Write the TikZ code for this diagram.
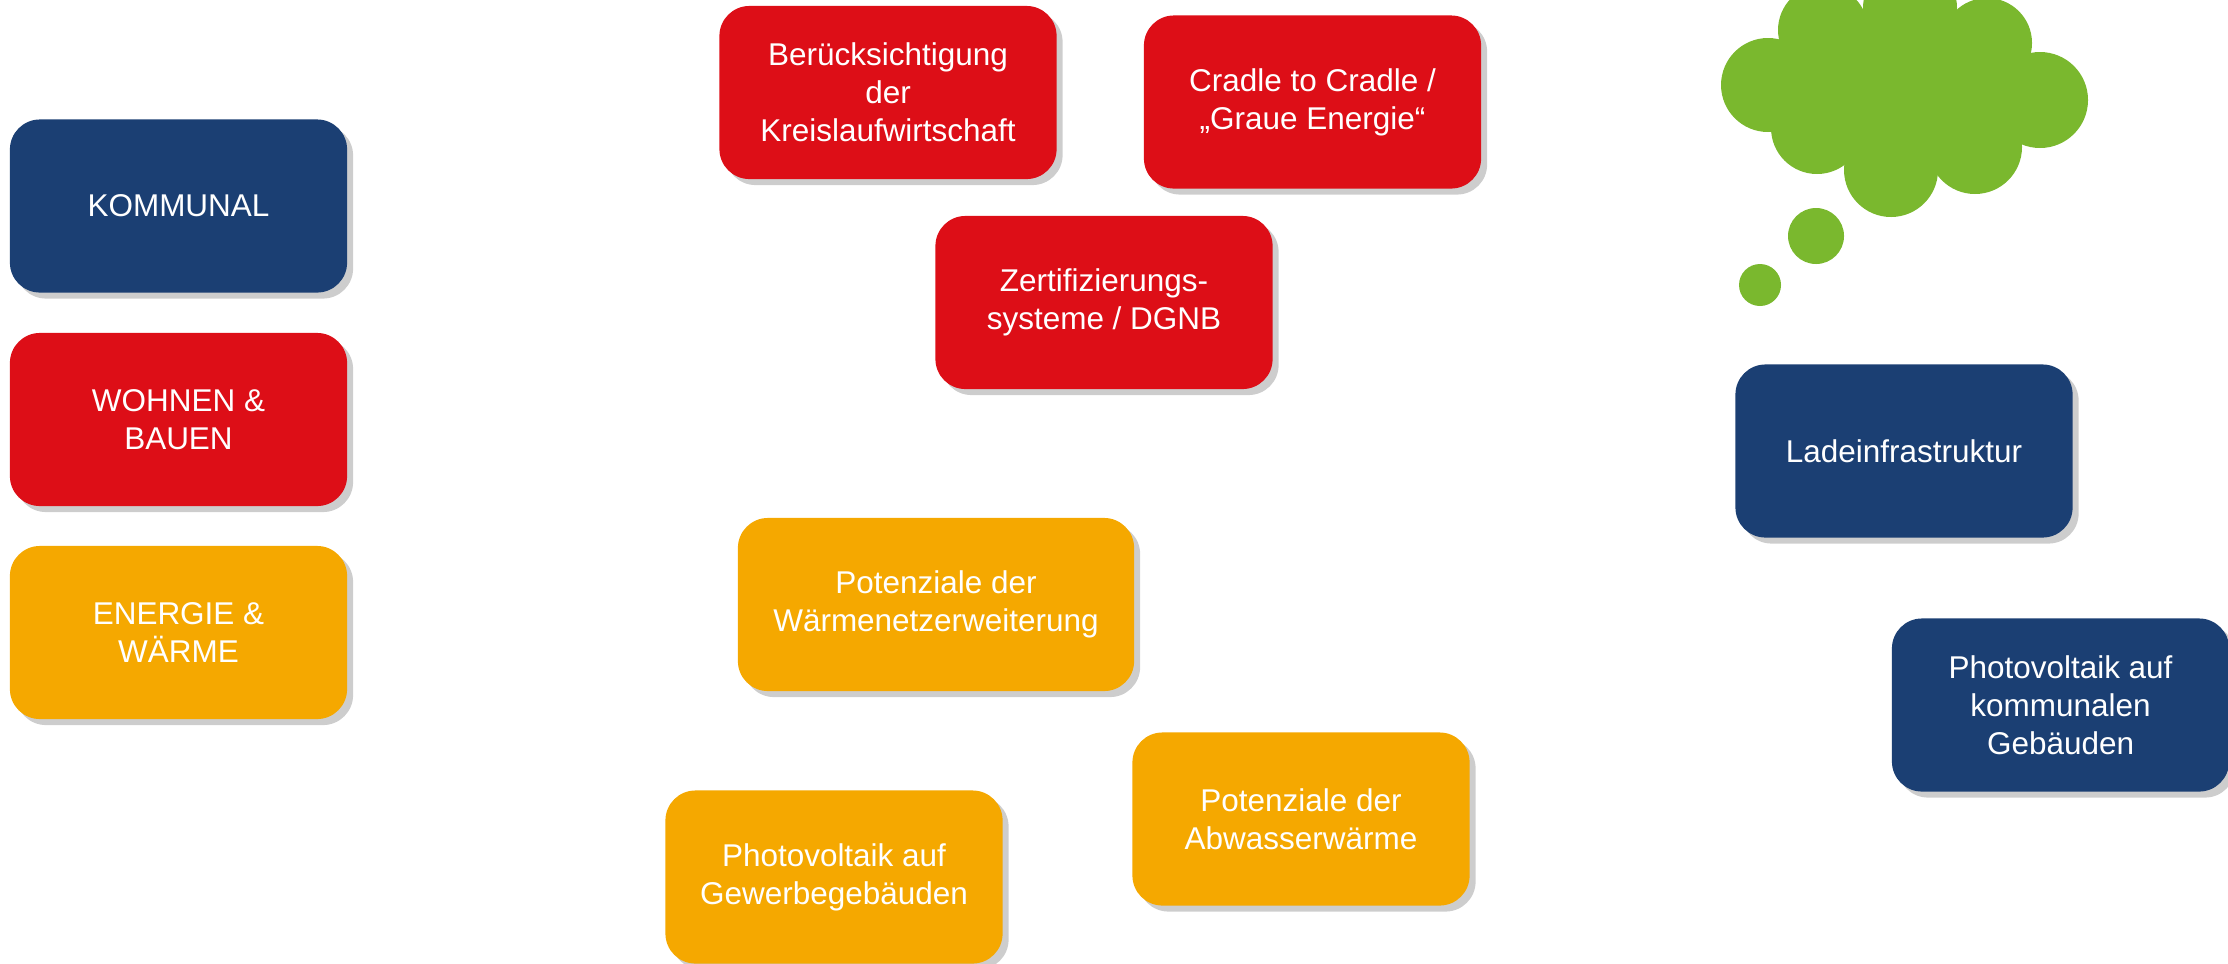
\documentclass[tikz,border=0pt]{standalone}
\usepackage{fontspec}
\setmainfont{Liberation Sans}
\usetikzlibrary{shadows}
\definecolor{kblue}{HTML}{1B3F73}
\definecolor{kred}{HTML}{DD0E17}
\definecolor{korange}{HTML}{F5A800}
\definecolor{kgreen}{HTML}{7AB82E}
\begin{document}
\begin{tikzpicture}[x=0.01cm,y=-0.01cm,
  card/.style={rounded corners=3mm,minimum width=3.37cm,minimum height=1.73cm,
               align=center,text=white,inner sep=2pt,
               font=\fontsize{8.95}{10.8}\selectfont,
               drop shadow={shadow xshift=0.6mm,shadow yshift=-0.6mm,
                            opacity=.28,fill=black!70}},
  blue/.style={card,fill=kblue},
  red/.style={card,fill=kred},
  orange/.style={card,fill=korange}]
\useasboundingbox (0,0) rectangle (2228,963);
\node[blue] (kommunal) at (178.5,206) {KOMMUNAL};
\node[red] (wohnen) at (178.5,419.5) {WOHNEN \&\\BAUEN};
\node[orange] (energie) at (178.5,632.5) {ENERGIE \&\\WÄRME};
\node[red] (kreislauf) at (888,92.5) {Berücksichtigung\\der\\Kreislaufwirtschaft};
\node[red] (cradle) at (1312.5,102) {Cradle to Cradle /\\„Graue Energie“};
\node[red] (dgnb) at (1104,302.5) {Zertifizierungs-\\systeme / DGNB};
\node[blue] (lade) at (1904,451) {Ladeinfrastruktur};
\node[blue] (pvkommunal) at (2060.5,705) {Photovoltaik auf\\kommunalen\\Gebäuden};
\node[orange,minimum width=3.96cm] (waermenetz) at (936,604.5)
  {Potenziale der\\Wärmenetzerweiterung};
\node[orange] (abwasser) at (1301,819) {Potenziale der\\Abwasserwärme};
\node[orange] (pvgewerbe) at (834,877) {Photovoltaik auf\\Gewerbegebäuden};
\fill[kgreen] (1905,90) ellipse[x radius=130,y radius=75];
\foreach \cx/\cy/\r in
  {1768/85/47, 1823/30/45, 1910/8/47, 1987/43/45,
   2040/100/48, 1975/147/47, 1891/170/47, 1817/128/46,
   1816/236/28, 1760/285/21}
{
  \fill[kgreen] (\cx,\cy) circle[radius=\r];
}
\end{tikzpicture}
\end{document}
